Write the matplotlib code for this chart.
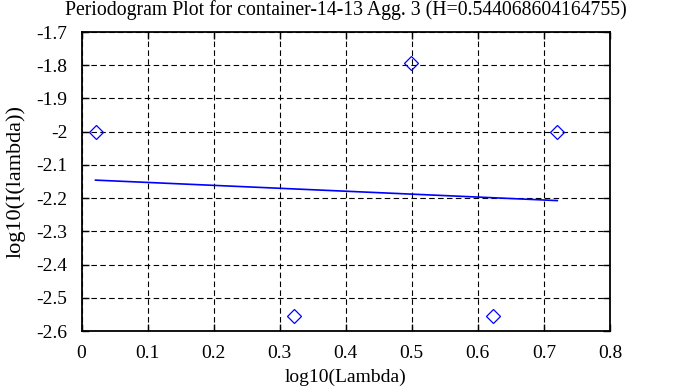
import numpy as np
import matplotlib
matplotlib.use("Agg")
import matplotlib.pyplot as plt
from matplotlib.ticker import FuncFormatter

# periodogram points (log10 of frequency vs log10 of intensity)
log_lambda = [0.0212, 0.3222, 0.4983, 0.6232, 0.7202]
log_intensity = [-2.0, -2.555, -1.792, -2.555, -2.0]

# least-squares fit line
fit_slope = -0.0881
fit_intercept = -2.144

title = "Periodogram Plot for container-14-13 Agg. 3 (H=0.544068604164755)"

plt.rcParams['font.family'] = ['Liberation Serif', 'DejaVu Serif']
plt.rcParams['font.size'] = 14

fig = plt.figure(figsize=(6.78, 3.87), dpi=100)
ax = fig.add_axes([81.5 / 678, 1 - 331 / 387, 528.5 / 678, 299 / 387])

ax.plot(log_lambda, log_intensity, linestyle='none', marker='D', ms=7.5,
        mfc='none', mec='blue', mew=0.9, zorder=3)

xfit = np.array([min(log_lambda), max(log_lambda)])
ax.plot(xfit, fit_intercept + fit_slope * xfit, color='blue', lw=1.2, zorder=3)

ax.set_xlim(0, 0.8)
ax.set_ylim(-2.6, -1.7)
ax.set_xticks(np.round(np.arange(0, 0.81, 0.1), 1))
ax.set_yticks(np.round(np.arange(-2.6, -1.69, 0.1), 1))
fmt = FuncFormatter(lambda v, p: "%g" % round(v, 2))
ax.xaxis.set_major_formatter(fmt)
ax.yaxis.set_major_formatter(fmt)

ax.grid(True, color='black', linestyle=(0, (5, 3)), linewidth=0.8)
ax.tick_params(direction='in', length=5, width=1, top=True, right=True,
               labelsize=14, pad=10)
for s in ax.spines.values():
    s.set_linewidth(1.3)

ax.set_title(title, fontsize=14.2, pad=12)
ax.set_xlabel("log10(Lambda)", fontsize=14, labelpad=5)
ax.set_ylabel("log10(I(lambda))", fontsize=16, labelpad=8)

fig.savefig("out.png", dpi=100)
